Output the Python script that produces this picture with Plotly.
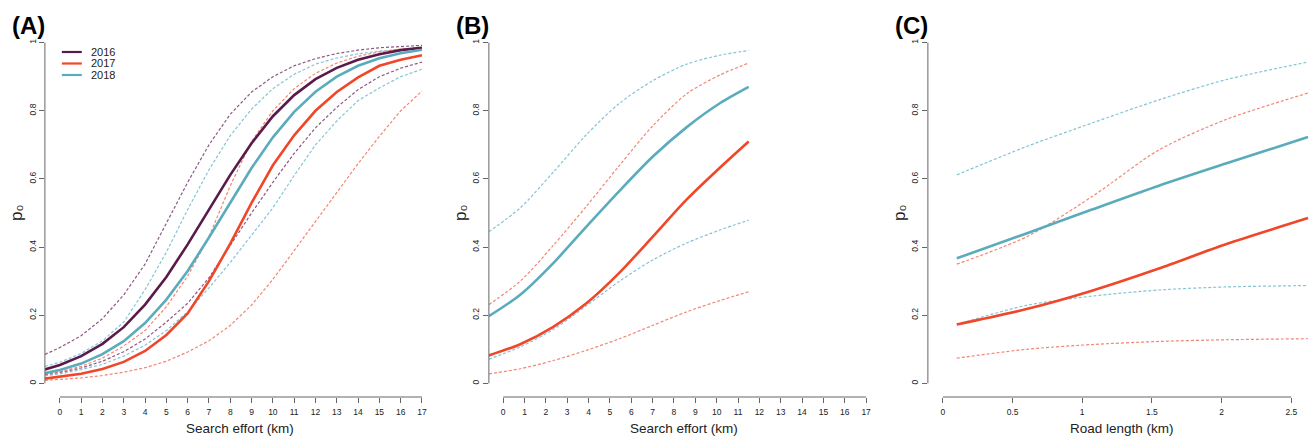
import plotly.graph_objects as go

W, H = 1314, 440

# ---------------- data ----------------
years = ["2016", "2017", "2018"]
colors = {"2016": "#5a1a4a", "2017": "#f0472a", "2018": "#5aacbc"}
dash_colors = {"2016": "rgba(120,60,110,0.85)", "2017": "rgba(242,110,90,0.85)", "2018": "rgba(120,190,210,0.9)"}

# Panel A: search effort (km)
a_x = [-0.7, 0, 1, 2, 3, 4, 5, 6, 7, 8, 9, 10, 11, 12, 13, 14, 15, 16, 17]
a_mean = {
    "2016": [0.041, 0.054, 0.080, 0.116, 0.165, 0.231, 0.312, 0.408, 0.510, 0.612, 0.705, 0.784, 0.846, 0.893, 0.926, 0.950, 0.966, 0.978, 0.985],
    "2017": [0.014, 0.019, 0.028, 0.042, 0.063, 0.095, 0.142, 0.205, 0.300, 0.410, 0.530, 0.640, 0.728, 0.800, 0.855, 0.898, 0.932, 0.950, 0.963],
    "2018": [0.030, 0.039, 0.058, 0.086, 0.124, 0.177, 0.246, 0.330, 0.428, 0.531, 0.632, 0.722, 0.797, 0.856, 0.900, 0.932, 0.954, 0.969, 0.979],
}
a_upper = {
    "2016": [0.085, 0.105, 0.140, 0.190, 0.260, 0.350, 0.470, 0.590, 0.700, 0.790, 0.855, 0.900, 0.932, 0.953, 0.968, 0.978, 0.985, 0.989, 0.992],
    "2017": [0.026, 0.034, 0.050, 0.074, 0.110, 0.155, 0.225, 0.315, 0.430, 0.580, 0.710, 0.800, 0.865, 0.910, 0.940, 0.960, 0.973, 0.981, 0.986],
    "2018": [0.050, 0.062, 0.088, 0.125, 0.180, 0.275, 0.385, 0.510, 0.627, 0.727, 0.805, 0.865, 0.907, 0.937, 0.955, 0.967, 0.975, 0.981, 0.985],
}
a_lower = {
    "2016": [0.025, 0.032, 0.045, 0.065, 0.093, 0.130, 0.180, 0.235, 0.310, 0.405, 0.500, 0.590, 0.675, 0.750, 0.810, 0.862, 0.900, 0.925, 0.943],
    "2017": [0.009, 0.011, 0.016, 0.023, 0.033, 0.046, 0.065, 0.092, 0.125, 0.170, 0.230, 0.305, 0.390, 0.475, 0.560, 0.645, 0.725, 0.800, 0.858],
    "2018": [0.022, 0.028, 0.040, 0.056, 0.080, 0.112, 0.155, 0.210, 0.280, 0.355, 0.435, 0.515, 0.610, 0.700, 0.770, 0.830, 0.867, 0.900, 0.922],
}

# Panel B: search effort (km), 2017 and 2018
b_x = [-0.67, 0.8, 2.35, 3.9, 5.45, 7.0, 8.6, 10.15, 11.5]
b_mean = {
    "2017": [0.082, 0.115, 0.166, 0.235, 0.325, 0.430, 0.540, 0.633, 0.710],
    "2018": [0.197, 0.260, 0.353, 0.460, 0.565, 0.665, 0.752, 0.822, 0.870],
}
b_upper = {
    "2017": [0.231, 0.300, 0.405, 0.520, 0.640, 0.755, 0.850, 0.905, 0.940],
    "2018": [0.445, 0.515, 0.620, 0.730, 0.822, 0.888, 0.937, 0.963, 0.977],
}
b_lower = {
    "2017": [0.028, 0.043, 0.067, 0.097, 0.131, 0.170, 0.210, 0.243, 0.269],
    "2018": [0.071, 0.107, 0.158, 0.228, 0.300, 0.362, 0.412, 0.450, 0.479],
}

# Panel C: road length (km), 2017 and 2018
c_x = [0.1, 0.6, 1.07, 1.55, 2.03, 2.62]
c_mean = {
    "2017": [0.173, 0.218, 0.272, 0.337, 0.408, 0.485],
    "2018": [0.367, 0.440, 0.510, 0.580, 0.645, 0.723],
}
c_upper = {
    "2017": [0.350, 0.430, 0.548, 0.685, 0.774, 0.852],
    "2018": [0.612, 0.695, 0.764, 0.832, 0.891, 0.943],
}
c_lower = {
    "2017": [0.074, 0.100, 0.114, 0.123, 0.128, 0.131],
    "2018": [0.173, 0.229, 0.256, 0.274, 0.283, 0.287],
}

y_ticks = [0, 0.2, 0.4, 0.6, 0.8, 1]
y_tick_text = ["0", "0.2", "0.4", "0.6", "0.8", "1"]
ab_x_ticks = list(range(0, 18))
c_x_ticks = [0, 0.5, 1, 1.5, 2, 2.5]
c_x_tick_text = ["0", "0.5", "1", "1.5", "2", "2.5"]

panel_labels = ["(A)", "(B)", "(C)"]
x_titles = ["Search effort (km)", "Search effort (km)", "Road length (km)"]
y_title = "p\u2080"

# ---------------- layout geometry (pixels) ----------------
# (left px, px of value 0, px per unit, right px)
geo = [
    (45.0, 60.0, 21.35, 425.0),
    (490.0, 504.3, 21.4, 870.0),
    (930.0, 945.0, 139.7, 1314.0),
]
y_top_px, y_bot_px = 29.0, 397.0
y_range = [-0.04, 1.04]
FONT = "Liberation Sans, Arial, Helvetica, sans-serif"

fig = go.Figure()

def add_panel(idx, xs, mean, upper, lower, yrs, shape):
    ax = "" if idx == 0 else str(idx + 1)
    for yr in yrs:
        for arr in (upper, lower):
            fig.add_trace(go.Scatter(
                x=xs, y=arr[yr], mode="lines", xaxis="x" + ax, yaxis="y" + ax,
                line=dict(color=dash_colors[yr], width=1.2, dash="3px,2px", shape=shape,
                          smoothing=0.8 if shape == "spline" else None),
                showlegend=False, hoverinfo="skip"))
    for yr in yrs:
        fig.add_trace(go.Scatter(
            x=xs, y=mean[yr], mode="lines", xaxis="x" + ax, yaxis="y" + ax,
            line=dict(color=colors[yr], width=2.6, shape=shape,
                      smoothing=0.8 if shape == "spline" else None),
            name=yr, showlegend=False))

add_panel(0, a_x, a_mean, a_upper, a_lower, ["2016", "2018", "2017"], "linear")
add_panel(1, b_x, b_mean, b_upper, b_lower, ["2018", "2017"], "spline")
add_panel(2, c_x, c_mean, c_upper, c_lower, ["2018", "2017"], "spline")

tick_font = dict(family=FONT, size=8.5, color="#222222")
axis_col = "#666666"

layout = dict(
    width=W, height=H, margin=dict(l=0, r=0, t=0, b=0), autosize=False,
    paper_bgcolor="white", plot_bgcolor="white", showlegend=False,
    font=dict(family=FONT, color="#222222"),
)
shapes = []
annotations = []
for i, (lpx, zpx, sc, rpx) in enumerate(geo):
    ax = "" if i == 0 else str(i + 1)
    xr = [(lpx - zpx) / sc, (rpx - zpx) / sc]
    if i < 2:
        tv, tt, xmax = ab_x_ticks, [str(t) for t in ab_x_ticks], 17
    else:
        tv, tt, xmax = c_x_ticks, c_x_tick_text, 2.5
    layout["xaxis" + ax] = dict(
        domain=[lpx / W, rpx / W], range=xr, anchor="y" + ax,
        showgrid=False, zeroline=False, showline=False,
        ticks="outside", ticklen=5, tickwidth=1, tickcolor=axis_col,
        tickvals=tv, ticktext=tt, tickfont=tick_font, ticklabelstandoff=2,
    )
    layout["yaxis" + ax] = dict(
        domain=[(H - y_bot_px) / H, (H - y_top_px) / H], range=y_range, anchor="x" + ax,
        showgrid=False, zeroline=False, showline=False,
        ticks="outside", ticklen=5, tickwidth=1, tickcolor=axis_col,
        tickvals=y_ticks, ticktext=y_tick_text, tickangle=-90, tickfont=tick_font,
    )
    # axis lines spanning only the tick range (R style)
    shapes.append(dict(type="line", xref="x" + ax + " domain", yref="y" + ax,
                       x0=0, x1=0, y0=0, y1=1, line=dict(color=axis_col, width=1)))
    shapes.append(dict(type="line", xref="x" + ax, yref="y" + ax + " domain",
                       x0=0, x1=xmax, y0=0, y1=0, line=dict(color=axis_col, width=1)))
    # panel label
    annotations.append(dict(text=panel_labels[i], xref="paper", yref="paper",
                            x=(lpx - 16) / W, y=(H - 26) / H, xanchor="center", yanchor="middle",
                            showarrow=False,
                            font=dict(size=24, color="black", family=FONT, weight="bold")))
    # y title
    annotations.append(dict(text=y_title, xref="paper", yref="paper",
                            x=(lpx - 29) / W, y=(H - 212) / H, xanchor="center", yanchor="middle",
                            textangle=-90, showarrow=False,
                            font=dict(size=17, color="#222222", family=FONT)))
    # x title
    cx = [241, 686, 1125][i]
    annotations.append(dict(text=x_titles[i], xref="paper", yref="paper",
                            x=cx / W, y=(H - 428) / H, xanchor="center", yanchor="middle",
                            showarrow=False, font=dict(size=13.5, color="#222222", family=FONT)))

# legend (panel A)
leg_y = [52, 63.5, 75]
for yr, ly in zip(years, leg_y):
    shapes.append(dict(type="line", xref="paper", yref="paper",
                       x0=62 / W, x1=82 / W, y0=(H - ly) / H, y1=(H - ly) / H,
                       line=dict(color=colors[yr], width=2.2)))
    annotations.append(dict(text=yr, xref="paper", yref="paper", x=89 / W, y=(H - ly) / H,
                            xanchor="left", yanchor="middle", showarrow=False,
                            font=dict(size=11, color="#222222", family=FONT)))

layout["shapes"] = shapes
layout["annotations"] = annotations
fig.update_layout(**layout)
fig.write_html("out.html")
